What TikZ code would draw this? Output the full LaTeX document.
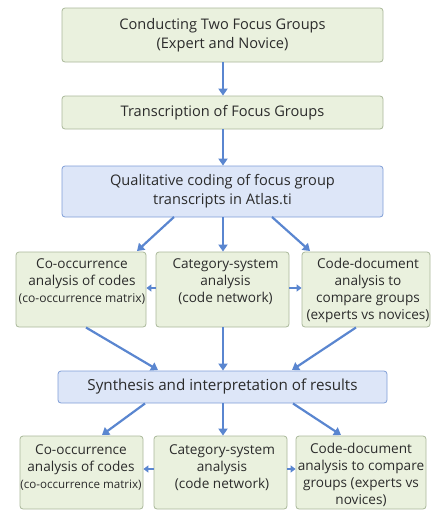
\documentclass[tikz,border=0pt]{standalone}
\usepackage{fontspec}
\setmainfont{Open Sans}
\usetikzlibrary{arrows.meta}
\definecolor{gfill}{HTML}{EAF1DE}
\definecolor{gdraw}{HTML}{A9B89A}
\definecolor{bfill}{HTML}{DDE6F8}
\definecolor{bdraw}{HTML}{7F9DD6}
\definecolor{arr}{HTML}{5A86D0}
\definecolor{txtc}{HTML}{2B2B2B}
\begin{document}
\begin{tikzpicture}[x=1pt,y=-1pt,
  boxbase/.style={rounded corners=3pt,line width=0.8pt,inner sep=0pt,align=center,text=txtc},
  gbox/.style={boxbase,draw=gdraw,fill=gfill},
  bbox/.style={boxbase,draw=bdraw,fill=bfill},
  bigtxt/.style={font=\fontsize{14.6}{19}\selectfont},
  txt/.style={inner sep=0pt,align=center,text=txtc,font=\fontsize{13.6}{17}\selectfont},
  conn/.style={draw=arr,line width=2.2pt,-{Triangle[length=7pt,width=9pt]}},
  sideconn/.style={draw=arr,line width=1.8pt,-{Triangle[length=5pt,width=7pt]}}]
\useasboundingbox (0,0) rectangle (439,523);
% top boxes
\node[gbox,bigtxt,minimum width=321pt,minimum height=54pt] (a) at (222.5,35) {Conducting Two Focus Groups\\(Expert and Novice)};
\node[gbox,bigtxt,minimum width=321pt,minimum height=33pt] (b) at (222.5,112.5) {Transcription of Focus Groups};
\node[bbox,bigtxt,minimum width=321pt,minimum height=51pt] (c) at (222.5,191.5) {Qualitative coding of focus group\\transcripts in Atlas.ti};
% middle row boxes
\node[gbox,minimum width=130pt,minimum height=75pt] (m1) at (81,289.5) {};
\node[gbox,minimum width=133pt,minimum height=75pt] (m2) at (222.5,289.5) {};
\node[gbox,minimum width=128pt,minimum height=75pt] (m3) at (366,289.5) {};
\node[txt] (m1t) at (82,282) {Co-occurrence\\analysis of codes\\{\fontsize{12.1}{17}\selectfont(co-occurrence matrix)}};
\node[txt] (m2t) at (225.5,282) {Category-system\\analysis\\(code network)};
\node[txt] (m3t) at (368,290.5) {Code-document\\analysis to\\compare groups\\(experts vs novices)};
% synthesis
\node[bbox,font=\fontsize{15.2}{19}\selectfont,minimum width=329pt,minimum height=32pt] (s) at (222.5,387) {Synthesis and interpretation of results};
% bottom row
\node[gbox,minimum width=123pt,minimum height=73pt] (n1) at (81.5,472.5) {};
\node[gbox,minimum width=133pt,minimum height=73pt] (n2) at (220.5,472.5) {};
\node[gbox,minimum width=130pt,minimum height=73pt] (n3) at (361,472.5) {};
\node[txt] (n1t) at (81,467.5) {Co-occurrence\\analysis of codes\\{\fontsize{11.6}{17}\selectfont(co-occurrence matrix)}};
\node[txt] (n2t) at (222,467.5) {Category-system\\analysis\\(code network)};
\node[txt] (n3t) at (361,475) {Code-document\\analysis to compare\\groups (experts vs\\novices)};
% connectors
\draw[conn] (a.south -| 223,0) -- (b.north -| 223,0);
\draw[conn] (b.south -| 223,0) -- (c.north -| 223,0);
\coordinate (c1) at (174,217); \coordinate (c1e) at (137,251);
\coordinate (c3) at (272,217); \coordinate (c3e) at (310,251);
\draw[conn] (c1) -- (c1e);
\draw[conn] (c.south -| 223,0) -- (m2.north -| 223,0);
\draw[conn] (c3) -- (c3e);
\draw[sideconn] (m2.west |- 0,288) -- (m1.east |- 0,288);
\draw[sideconn] (m2.east |- 0,288) -- (m3.west |- 0,288);
\coordinate (d1) at (86,327.5); \coordinate (d1e) at (158,370);
\coordinate (d3) at (356,327.5); \coordinate (d3e) at (292,370);
\draw[conn] (d1) -- (d1e);
\draw[conn] (m2.south -| 223,0) -- (s.north -| 223,0);
\draw[conn] (d3) -- (d3e);
\coordinate (e1) at (145,403.5); \coordinate (e1e) at (102,435);
\coordinate (e3) at (293,403.5); \coordinate (e3e) at (341,435);
\draw[conn] (e1) -- (e1e);
\draw[conn] (s.south -| 223,0) -- (n2.north -| 223,0);
\draw[conn] (e3) -- (e3e);
\draw[sideconn] (n2.west |- 0,469) -- (n1.east |- 0,469);
\draw[sideconn] (n2.east |- 0,469) -- (n3.west |- 0,469);
\end{tikzpicture}
\end{document}
